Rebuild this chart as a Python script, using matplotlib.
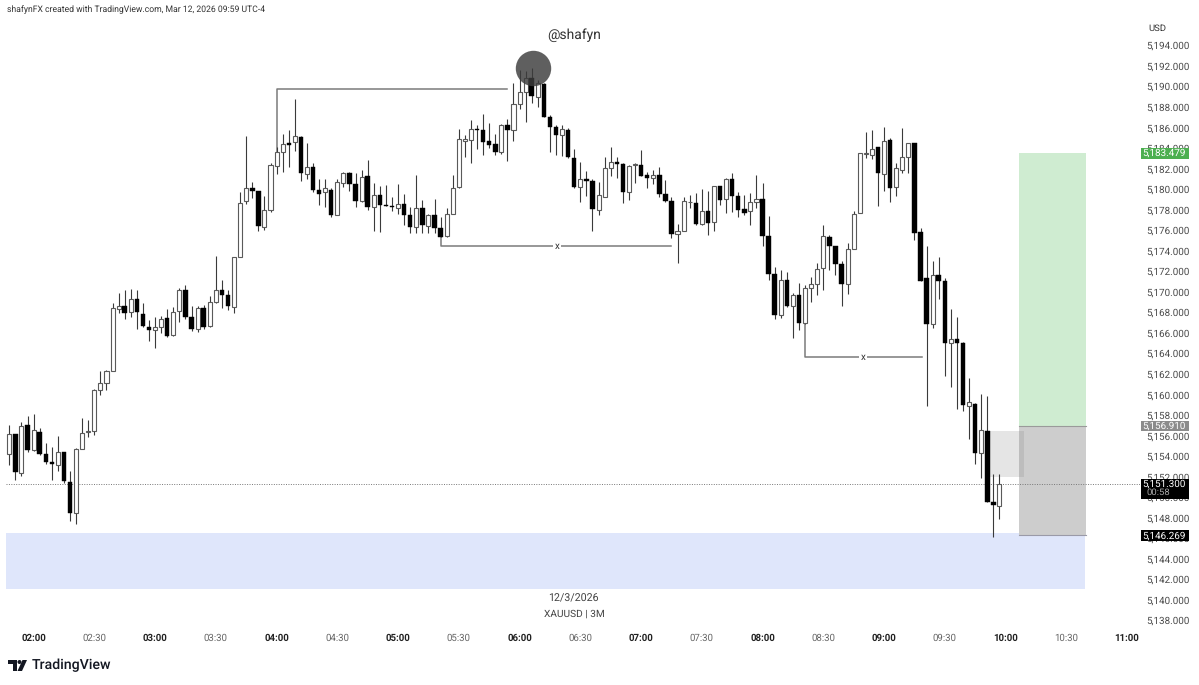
import numpy as np
import matplotlib.pyplot as plt
from matplotlib.patches import Rectangle, Polygon, Circle

plt.rcParams['font.family'] = ['Roboto', 'DejaVu Sans']
plt.rcParams['text.hinting'] = 'no_hinting'

# candles, 3 minute bars, W = up bar, B = down bar
direction = ("WBWBWBBBWB" "BWWWWWWWWB" "WBBBWWBWWB" "BWBWWBBWWW"
             "BBWWWWBWBW" "BBWBWWBBWB" "WBBBWBBWBW" "BBWWWWWBBB"
             "BWBWWWBWBB" "BWBBWBBWWW" "BBWWBBWBBB" "WWWBWBWBWB"
             "BBWWBBBWBW" "BWWWWBBBWW" "WWWBWBWWWB" "BBWBBWBBWB"
             "WBBW")

highs = [5157.0, 5156.1, 5157.3, 5157.9, 5158.05, 5156.75, 5155.3, 5154.9, 5155.9, 5154.4,
         5152.55, 5154.75, 5157.65, 5157.5, 5160.5, 5162.3, 5162.4, 5168.9, 5169.85, 5170.15,
         5170.3, 5170.2, 5168.85, 5167.2, 5167.5, 5167.6, 5168.3, 5168.5, 5170.4, 5170.65,
         5168.6, 5168.6, 5168.7, 5169.6, 5173.5, 5171.15, 5170.15, 5173.4, 5179.7, 5185.15,
         5180.7, 5179.85, 5179.3, 5182.5, 5184.1, 5185.4, 5185.7, 5188.8, 5185.15, 5184.45,
         5182.55, 5181.0, 5181.0, 5180.05, 5180.95, 5181.7, 5181.65, 5181.6, 5181.8, 5182.8,
         5180.55, 5180.3, 5180.4, 5179.25, 5180.5, 5179.5, 5178.2, 5181.35, 5178.9, 5177.6,
         5179.0, 5177.3, 5178.1, 5181.35, 5185.8, 5185.25, 5186.7, 5186.2, 5187.35, 5186.45,
         5185.35, 5186.3, 5186.8, 5190.3, 5191.6, 5191.5, 5191.75, 5190.6, 5190.3, 5187.2,
         5186.2, 5186.2, 5185.9, 5183.9, 5182.65, 5181.75, 5181.0, 5180.65, 5183.15, 5184.05,
         5183.1, 5182.5, 5182.3, 5182.55, 5183.8, 5181.7, 5181.8, 5182.15, 5180.85, 5179.25,
         5176.6, 5179.25, 5179.4, 5179.6, 5179.95, 5179.8, 5180.3, 5180.3, 5181.05, 5181.6,
         5179.75, 5179.4, 5179.6, 5181.35, 5180.55, 5177.35, 5172.45, 5172.1, 5171.95, 5169.9,
         5170.85, 5170.65, 5171.4, 5172.8, 5176.45, 5175.5, 5174.45, 5173.0, 5174.7, 5177.9,
         5183.55, 5185.5, 5185.75, 5184.1, 5186.0, 5184.95, 5182.5, 5185.9, 5184.5, 5184.5,
         5176.2, 5174.4, 5173.0, 5173.35, 5171.3, 5168.3, 5167.55, 5165.1, 5161.55, 5159.2,
         5160.0, 5159.8, 5152.2, 5152.25]

body_top = [5156.1, 5156.1, 5156.95, 5157.0, 5156.5, 5156.35, 5154.2, 5153.4, 5154.4, 5154.4,
            5151.5, 5154.7, 5156.25, 5156.45, 5160.4, 5161.1, 5162.3, 5168.4, 5168.65, 5168.65,
            5169.25, 5169.25, 5167.8, 5166.6, 5166.6, 5167.3, 5167.4, 5168.05, 5170.15, 5170.15,
            5167.5, 5168.4, 5168.4, 5169.0, 5170.2, 5170.2, 5169.65, 5173.35, 5178.65, 5180.05,
            5180.05, 5179.85, 5178.0, 5182.3, 5183.6, 5184.35, 5184.45, 5185.15, 5185.1, 5182.1,
            5182.1, 5179.9, 5180.05, 5179.9, 5180.7, 5181.6, 5181.6, 5180.5, 5181.2, 5181.25,
            5179.4, 5179.4, 5178.4, 5178.35, 5178.5, 5178.5, 5177.5, 5178.1, 5178.1, 5177.45,
            5177.5, 5176.2, 5177.55, 5180.1, 5184.9, 5184.9, 5185.85, 5185.85, 5185.75, 5184.65,
            5184.4, 5186.2, 5186.2, 5188.3, 5189.45, 5190.85, 5190.8, 5190.3, 5190.25, 5187.0,
            5186.0, 5185.8, 5185.75, 5183.05, 5180.95, 5180.95, 5180.75, 5179.4, 5182.0, 5182.6,
            5182.6, 5182.45, 5182.2, 5182.4, 5182.3, 5181.35, 5181.35, 5181.4, 5179.55, 5178.85,
            5175.95, 5178.8, 5178.75, 5178.65, 5177.9, 5177.85, 5180.25, 5180.25, 5180.95, 5181.0,
            5179.35, 5178.05, 5178.75, 5179.05, 5179.05, 5175.4, 5171.7, 5171.15, 5171.15, 5169.7,
            5169.7, 5170.35, 5170.7, 5172.25, 5175.45, 5175.35, 5174.4, 5172.65, 5174.15, 5177.6,
            5183.5, 5183.5, 5183.85, 5184.1, 5184.7, 5184.75, 5182.0, 5183.15, 5184.5, 5184.5,
            5175.8, 5171.3, 5171.6, 5171.6, 5171.05, 5165.4, 5165.4, 5165.05, 5159.25, 5159.1,
            5156.55, 5156.45, 5149.5, 5151.3]

body_bottom = [5154.2, 5152.4, 5152.3, 5154.6, 5154.6, 5154.15, 5153.4, 5153.2, 5153.15, 5151.6,
               5148.4, 5148.4, 5154.65, 5156.3, 5156.45, 5160.4, 5161.15, 5162.3, 5168.35, 5167.9,
               5168.05, 5168.0, 5166.65, 5166.25, 5166.25, 5166.6, 5165.7, 5165.75, 5168.15, 5167.5,
               5166.4, 5166.4, 5166.6, 5166.65, 5169.0, 5169.65, 5168.6, 5168.55, 5173.35, 5178.85,
               5179.85, 5176.4, 5176.3, 5177.95, 5182.25, 5183.6, 5184.3, 5184.55, 5181.6, 5181.45,
               5179.9, 5179.55, 5179.75, 5177.5, 5177.5, 5180.6, 5180.5, 5178.8, 5178.85, 5178.25,
               5178.25, 5178.45, 5178.35, 5178.2, 5178.1, 5177.5, 5176.3, 5176.3, 5176.45, 5176.4,
               5176.2, 5175.35, 5175.4, 5177.55, 5180.15, 5184.7, 5184.75, 5185.75, 5184.6, 5184.3,
               5183.6, 5183.6, 5185.7, 5185.7, 5188.25, 5189.4, 5189.05, 5188.95, 5187.05, 5186.0,
               5185.3, 5185.25, 5183.1, 5180.2, 5180.2, 5180.8, 5178.05, 5178.0, 5179.2, 5182.0,
               5182.45, 5179.7, 5179.7, 5182.3, 5181.3, 5181.05, 5181.05, 5179.55, 5178.85, 5175.65,
               5175.6, 5175.95, 5178.7, 5176.6, 5176.55, 5176.7, 5176.75, 5178.95, 5179.0, 5179.3,
               5177.95, 5177.7, 5177.9, 5178.75, 5175.45, 5171.7, 5167.7, 5167.7, 5168.65, 5168.6,
               5166.95, 5166.95, 5170.4, 5170.7, 5172.3, 5174.4, 5172.7, 5170.75, 5170.7, 5174.15,
               5177.7, 5183.4, 5183.35, 5181.6, 5181.45, 5180.05, 5180.15, 5181.85, 5183.15, 5175.7,
               5171.0, 5166.9, 5166.9, 5171.05, 5165.05, 5165.05, 5165.05, 5158.95, 5158.9, 5154.25,
               5154.25, 5149.5, 5149.2, 5149.1]

lows = [5153.1, 5151.65, 5152.05, 5154.4, 5154.5, 5154.1, 5153.2, 5151.65, 5152.55, 5151.4,
        5147.7, 5147.4, 5154.65, 5155.8, 5156.0, 5159.9, 5160.4, 5162.3, 5167.9, 5167.3,
        5167.55, 5166.4, 5166.6, 5165.2, 5164.5, 5166.0, 5165.6, 5165.7, 5167.0, 5167.3,
        5166.2, 5166.1, 5166.4, 5166.6, 5168.9, 5168.45, 5168.2, 5167.9, 5173.35, 5178.5,
        5179.15, 5175.95, 5176.0, 5177.8, 5181.5, 5181.7, 5182.1, 5183.7, 5180.8, 5180.95,
        5179.75, 5178.4, 5178.2, 5177.3, 5177.45, 5180.2, 5179.85, 5178.2, 5178.75, 5178.0,
        5175.9, 5175.85, 5178.35, 5177.9, 5177.6, 5176.5, 5175.7, 5175.75, 5175.75, 5175.7,
        5175.75, 5175.35, 5175.35, 5177.55, 5180.05, 5183.15, 5182.5, 5183.85, 5183.35, 5183.95,
        5183.35, 5183.45, 5182.75, 5184.7, 5187.75, 5186.55, 5188.35, 5187.95, 5187.0, 5183.6,
        5183.3, 5183.2, 5183.05, 5180.05, 5178.75, 5179.35, 5175.9, 5177.5, 5179.2, 5181.3,
        5181.1, 5178.6, 5178.9, 5180.55, 5181.3, 5180.05, 5180.45, 5179.2, 5178.75, 5175.25,
        5172.75, 5175.9, 5178.1, 5176.5, 5176.5, 5175.5, 5175.95, 5178.45, 5177.65, 5177.8,
        5177.25, 5177.45, 5176.45, 5178.1, 5174.45, 5171.1, 5167.3, 5167.4, 5168.5, 5165.5,
        5166.25, 5166.9, 5168.95, 5169.65, 5170.15, 5172.15, 5171.6, 5168.6, 5169.75, 5174.15,
        5177.7, 5183.0, 5182.9, 5178.35, 5179.85, 5178.75, 5179.35, 5181.6, 5181.6, 5175.0,
        5171.0, 5158.87, 5166.5, 5169.3, 5161.8, 5160.7, 5158.55, 5158.4, 5155.7, 5153.2,
        5151.9, 5149.5, 5146.1, 5147.9]

# time axis in minutes after 02:00, first candle is 12 minutes before it
first_bar = -12
bar_minutes = 3
time_ticks = [0, 30, 60, 90, 120, 150, 180, 210, 240, 270, 300, 330, 360, 390, 420, 450, 480, 510, 540]
time_labels = ['02:00', '02:30', '03:00', '03:30', '04:00', '04:30', '05:00', '05:30', '06:00', '06:30',
               '07:00', '07:30', '08:00', '08:30', '09:00', '09:30', '10:00', '10:30', '11:00']
price_ticks = list(range(5138, 5196, 2))

last_price = 5151.3
target = 5183.479
entry = 5156.91
stop = 5146.269

W, H = 1199, 685
fig = plt.figure(figsize=(W / 100, H / 100), dpi=100, facecolor='white')
ax = fig.add_axes([6 / W, 1 - 625 / H, 1134 / W, 607 / H])
ax.set_xlim(-13.63, 546.4)
ax.set_ylim(5137.54, 5196.65)
for s in ax.spines.values():
    s.set_visible(False)

x = first_bar + np.arange(len(highs)) * bar_minutes
top = np.array(body_top)
bottom = np.array(body_bottom)
is_up = np.array([d == 'W' for d in direction])

# zones under the candles
ax.add_patch(Rectangle((-13.63, 5141.05), 532.9, 5.45, color='#dfe6fb', lw=0, zorder=1))
ax.add_patch(Rectangle((486.4, entry), 33.1, target - entry, color='#cfecd1', lw=0, zorder=1))
ax.add_patch(Rectangle((486.4, stop), 33.1, entry - stop, color='#cdcdcd', lw=0, zorder=1))
ax.plot([486.4, 519.5], [entry, entry], color='#9a9a9a', lw=0.8, zorder=1.2)
ax.plot([486.4, 519.5], [stop, stop], color='#9a9aa8', lw=0.8, zorder=1.2)
ax.add_patch(Rectangle((471.3, 5152.0), 17.9, 4.47, color='#808080', alpha=0.2, lw=0, zorder=1.3))

ax.axhline(last_price, color='#777777', lw=0.7, ls=(0, (1, 1.5)), zorder=1.5)

# annotations
line_color = '#7a7a7a'
ax.plot([120, 120, 234], [5183.6, 5189.73, 5189.73], color=line_color, lw=1.1, zorder=2)
ax.plot([201, 201, 315], [5175.35, 5174.4, 5174.4], color=line_color, lw=1.1, zorder=2)
ax.plot([381, 381, 438.6], [5167.0, 5163.6, 5163.6], color=line_color, lw=1.1, zorder=2)
ax.text(258.5, 5174.4, 'x', ha='center', va='center', fontsize=7, color='#333333', zorder=2.2,
        bbox=dict(facecolor='white', edgecolor='none', pad=1.5))
ax.text(409.6, 5163.6, 'x', ha='center', va='center', fontsize=7, color='#333333', zorder=2.2,
        bbox=dict(facecolor='white', edgecolor='none', pad=1.5))

# candles
ax.vlines(x, lows, highs, color='#3a3a3a', lw=0.8, zorder=3)
ax.bar(x[is_up], (top - bottom)[is_up], bottom=bottom[is_up], width=2.0, color='white',
       edgecolor='#5a5a5a', linewidth=0.8, zorder=4)
ax.bar(x[~is_up], np.maximum(top - bottom, 0.1)[~is_up], bottom=bottom[~is_up], width=2.2, color='black',
       edgecolor='black', linewidth=0.3, zorder=4)

# dot over the high
ax.scatter([246.4], [5191.8], s=650, color='#3c3c3c', alpha=0.82, linewidths=0, zorder=5)

# axes text
ax.set_xticks(time_ticks)
ax.set_xticklabels(time_labels)
ax.yaxis.tick_right()
ax.set_yticks(price_ticks)
ax.set_yticklabels(['{:,.3f}'.format(p) for p in price_ticks])
ax.tick_params(axis='both', length=0)
ax.tick_params(axis='y', labelsize=7.1, labelcolor='#4a4a4a', pad=4.3)
ax.tick_params(axis='x', labelsize=6.9, pad=6)
for lab, t in zip(ax.get_xticklabels(), time_ticks):
    if t % 60 == 0:
        lab.set_color('#222222')
        lab.set_fontweight('bold')
    else:
        lab.set_color('#666666')

# price tags on the scale
trans = ax.get_yaxis_transform()
def price_tag(price, text, bg, fg, height=1.05):
    ax.add_patch(Rectangle((1.0005, price - height / 2), 0.0428, height, transform=trans, facecolor=bg,
                           edgecolor='none', clip_on=False, zorder=10))
    ax.text(1.0213, price, text, transform=trans, ha='center', va='center', fontsize=7.1, color=fg,
            clip_on=False, zorder=11)

price_tag(target, '5,183.479', '#4caf50', 'white')
price_tag(entry, '5,156.910', '#8c8c8c', 'white')
price_tag(stop, '5,146.269', 'black', 'white')
ax.add_patch(Rectangle((1.0005, 5149.82), 0.0428, 1.94, transform=trans, facecolor='black',
                       edgecolor='none', clip_on=False, zorder=10))
ax.text(1.0213, last_price, '5,151.300', transform=trans, ha='center', va='center', fontsize=7.1,
        color='white', clip_on=False, zorder=11)
ax.text(1.0053, 5150.4, '00:58', transform=trans, ha='left', va='center', fontsize=6.8, color='#aaaaaa',
        clip_on=False, zorder=11)

fig.text(7 / W, 1 - 10 / H, 'shafynFX created with TradingView.com, Mar 12, 2026 09:59 UTC-4', fontsize=6.2,
         color='#333333', ha='left', va='center')
fig.text(1157 / W, 1 - 28 / H, 'USD', fontsize=6.8, color='#333333', ha='center', va='center')
fig.text(574 / W, 1 - 35 / H, '@shafyn', fontsize=10, color='#333333', ha='center', va='center')
fig.text(573 / W, 1 - 598 / H, '12/3/2026', fontsize=7.7, color='#444444', ha='center', va='center')
fig.text(574 / W, 1 - 614 / H, 'XAUUSD | 3M', fontsize=7.3, color='#444444', ha='center', va='center')

# logo
logo = fig.add_axes([0, 0, 1, 1], facecolor='none')
logo.set_xlim(0, W)
logo.set_ylim(H, 0)
logo.axis('off')
logo.add_patch(Polygon([(8, 660), (17, 660), (17, 671), (12.5, 671), (12.5, 664), (8, 664)], color='#131722', lw=0))
logo.add_patch(Circle((19.5, 662), 2, color='#131722', lw=0))
logo.add_patch(Polygon([(22.5, 660), (27, 660), (22, 671), (17.5, 671)], color='#131722', lw=0))
logo.text(32, 665.5, 'TradingView', fontsize=10.2, fontweight='medium', color='#131722', ha='left', va='center')

fig.savefig('out.png', dpi=100)
